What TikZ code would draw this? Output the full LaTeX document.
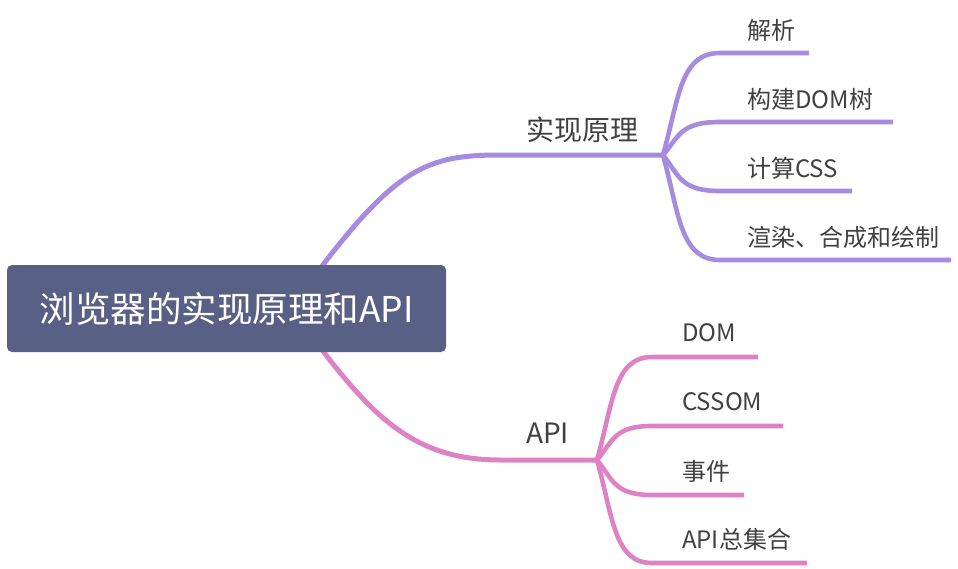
\documentclass[tikz,border=0pt]{standalone}
\usepackage{fontspec}
\setmainfont{Noto Sans CJK SC}
\usepackage{tikz}
\usetikzlibrary{backgrounds}
\definecolor{radicecol}{HTML}{596086}
\definecolor{viola}{HTML}{A68BE0}
\definecolor{rosa}{HTML}{DE82C6}
\definecolor{testo}{HTML}{404040}

\begin{document}
\begin{tikzpicture}[x=1pt, y=-1pt, line join=round,
  radice/.style={fill=radicecol, rounded corners=5pt, text=white, inner sep=0,
    minimum width=439pt, minimum height=87pt, font=\fontsize{35.5}{42}\selectfont},
  ramo/.style={anchor=west, inner sep=0, text=testo, font=\fontsize{28}{34}\selectfont},
  foglia/.style={anchor=west, inner sep=0, text=testo, font=\fontsize{24}{29}\selectfont},
  linea/.style={line width=5pt},
  lineafoglia/.style={line width=4.6pt}]

\useasboundingbox (0,0) rectangle (958,568);

% Radice
\node[radice] (radice) at (226.5,308.5) {浏览器的实现原理和API};

% Rami
\node[ramo] (impl) at (526,130) {实现原理};
\node[ramo] (api) at (526,433) {API};
\coordinate (hImpl) at (500,155);
\coordinate (jImpl) at (663,155);
\coordinate (hApi) at (500,460);
\coordinate (jApi) at (597,460);

\begin{scope}[on background layer]
\draw[linea, viola] ([xshift=64pt]radice.center) .. controls +(100,-138) and +(-80,0) .. (hImpl) -- (jImpl);
\draw[linea, rosa] ([xshift=64pt]radice.center) .. controls +(70,92) and +(-100,0) .. (hApi) -- (jApi);
\end{scope}

% Foglie (implementazione)
\foreach \n/\y/\l/\t in {f1/53/89/解析, f2/122/173/构建DOM树, f3/191/132/计算CSS, f4/260/231/渲染、合成和绘制} {
  \coordinate (s\n) at (720,\y);
  \node[foglia] (\n) at ([xshift=27pt,yshift=23pt]s\n) {\t};
  \draw[lineafoglia, viola] (jImpl) .. controls +(16,{(\y-155)/1.8}) and +(-40,0) .. (s\n) -- ++(\l,0);
}

% Foglie (API)
\foreach \n/\y/\l/\t in {g1/357/106/DOM, g2/426/131/CSSOM, g3/495/92/事件, g4/563/155/API总集合} {
  \coordinate (s\n) at (652,\y);
  \node[foglia] (\n) at ([xshift=30pt,yshift=24pt]s\n) {\t};
  \draw[lineafoglia, rosa] (jApi) .. controls +(16,{(\y-460)/1.8}) and +(-38,0) .. (s\n) -- ++(\l,0);
}

\end{tikzpicture}
\end{document}
